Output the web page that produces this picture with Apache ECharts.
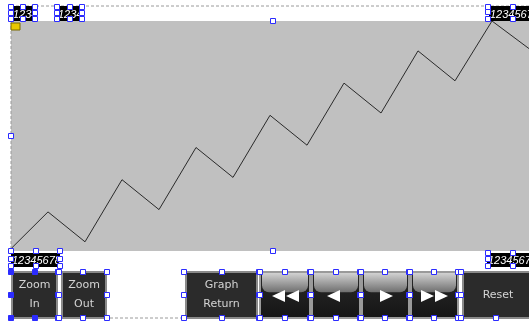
<!DOCTYPE html>
<html>
<head>
<meta charset="utf-8">
<script src="https://cdn.jsdelivr.net/npm/echarts@6/dist/echarts.min.js"></script>
<style>
  html, body { margin: 0; padding: 0; background: #fff; }
  #main { width: 529px; height: 321px; }
</style>
</head>
<body>
<div id="main"></div>
<script>
// trend samples (percent of span)
const samples = ['0', '1', '2', '3', '4', '5', '6', '7', '8', '9', '10', '11', '12', '13', '14'];
const trendValues = [1, 17, 4, 31, 18, 45, 32, 59, 46, 73, 60, 87, 74, 100, 88];
const topLabels = ['1234', '1234', '12345678'];
const bottomLabels = ['12345678', '12345678'];
const buttonLabels = ['Zoom\nIn', 'Zoom\nOut', 'Graph\nReturn', 'Reset'];

const chart = echarts.init(document.getElementById('main'));

const BLUE = '#2b2bff';

// 8 selection handles around a box
function handles(x1, y1, x2, y2, filled) {
  const xm = Math.round((x1 + x2) / 2), ym = Math.round((y1 + y2) / 2);
  const pts = [[x1, y1], [xm, y1], [x2, y1], [x1, ym], [x2, ym], [x1, y2], [xm, y2], [x2, y2]];
  return pts.map(p => ({
    type: 'rect', z: 50,
    shape: { x: p[0] - 2.5, y: p[1] - 2.5, width: 5, height: 5 },
    style: { fill: filled ? BLUE : '#fff', stroke: BLUE, lineWidth: 1 }
  }));
}

function valueBox(x, y, w, h, txt) {
  return [
    { type: 'rect', z: 20, shape: { x: x, y: y, width: w, height: h }, style: { fill: '#000' } },
    { type: 'text', z: 21, x: x + 1, y: y + h / 2 + 1,
      style: { text: txt, fill: '#fff', font: 'italic 11px "Liberation Sans"', verticalAlign: 'middle' } }
  ];
}

function darkButton(x, y, w, h, txt) {
  return [
    { type: 'rect', z: 10, shape: { x: x, y: y, width: w, height: h },
      style: { fill: '#2b2b2b', stroke: '#8a8a8a', lineWidth: 2 } },
    { type: 'text', z: 11, x: x + w / 2, y: y + h / 2,
      style: { text: txt, fill: '#d4d4d4', font: '11px "DejaVu Sans"', align: 'center',
               verticalAlign: 'middle', lineHeight: 19 } }
  ];
}

function mediaButton(x, y, w, h, arrows) {
  const els = [
    { type: 'rect', z: 10, shape: { x: x, y: y, width: w, height: h },
      style: { fill: new echarts.graphic.LinearGradient(0, 0, 0, 1, [
        { offset: 0, color: '#2a2a2a' }, { offset: 1, color: '#151515' }]), stroke: '#9a9a9a', lineWidth: 2 } },
    { type: 'rect', z: 11, shape: { x: x + 2, y: y + 1, width: w - 4, height: h * 0.42, r: [0, 0, 7, 7] },
      style: { fill: new echarts.graphic.LinearGradient(0, 0, 0, 1, [
        { offset: 0, color: '#d2d2d2' }, { offset: 1, color: '#6e6e6e' }]) } }
  ];
  const cy = y + h / 2 + 1;
  arrows.forEach(a => {
    const dir = a[1];
    const tip = a[0];
    const base = tip - dir * 13;
    els.push({ type: 'polygon', z: 12,
      shape: { points: [[tip, cy], [base, cy - 6], [base, cy + 6]] },
      style: { fill: '#fff' } });
  });
  return els;
}

function handleAt(list) {
  return list.map(p => ({
    type: 'rect', z: 50, shape: { x: p[0] - 2.5, y: p[1] - 2.5, width: 5, height: 5 },
    style: { fill: '#fff', stroke: BLUE } }));
}

let graphics = [];

// frame dotted lines
graphics.push({ type: 'line', z: 5, shape: { x1: 11, y1: 6, x2: 529, y2: 6 },
  style: { stroke: '#9a9a9a', lineWidth: 1, lineDash: [3, 2] } });
graphics.push({ type: 'line', z: 5, shape: { x1: 11, y1: 6, x2: 11, y2: 251 },
  style: { stroke: '#9a9a9a', lineWidth: 1, lineDash: [3, 2] } });
graphics.push({ type: 'line', z: 5, shape: { x1: 105, y1: 318, x2: 470, y2: 318 },
  style: { stroke: '#9a9a9a', lineWidth: 1, lineDash: [3, 2] } });

// value labels
graphics = graphics.concat(valueBox(12, 6, 25, 15, topLabels[0]));
graphics = graphics.concat(valueBox(57, 6, 25, 15, topLabels[1]));
graphics = graphics.concat(valueBox(489, 6, 40, 15, topLabels[2]));
graphics = graphics.concat(valueBox(11, 253, 49, 14, bottomLabels[0]));
graphics = graphics.concat(valueBox(487, 253, 42, 14, bottomLabels[1]));

// little icon
graphics.push({ type: 'rect', z: 30, shape: { x: 11, y: 23, width: 9, height: 7 },
  style: { fill: '#e8c800', stroke: '#7a6a00', lineWidth: 1 } });

// buttons
graphics = graphics.concat(darkButton(12, 272, 45, 46, buttonLabels[0]));
graphics = graphics.concat(darkButton(62, 272, 44, 46, buttonLabels[1]));
graphics = graphics.concat(darkButton(186, 272, 71, 46, buttonLabels[2]));
graphics = graphics.concat(darkButton(463, 272, 70, 46, buttonLabels[3]));
graphics = graphics.concat(mediaButton(260, 272, 50, 46, [[272, -1], [286, -1]]));
graphics = graphics.concat(mediaButton(312, 272, 48, 46, [[327, -1]]));
graphics = graphics.concat(mediaButton(362, 272, 47, 46, [[393, 1]]));
graphics = graphics.concat(mediaButton(411, 272, 47, 46, [[434, 1], [448, 1]]));

// selection handles
graphics = graphics.concat(handles(11, 7, 35, 19, false));
graphics = graphics.concat(handles(57, 7, 82, 19, false));
graphics = graphics.concat(handleAt([[488, 7], [513, 7], [488, 12], [488, 19], [513, 19]]));
graphics = graphics.concat(handles(11, 251, 60, 266, false));
graphics = graphics.concat(handleAt([[488, 253], [513, 253], [488, 259], [488, 266], [513, 266]]));
graphics = graphics.concat(handleAt([[273, 21], [11, 136], [273, 251]]));
graphics = graphics.concat(handles(11, 272, 58, 318, true));
graphics = graphics.concat(handles(59, 272, 107, 318, false));
graphics = graphics.concat(handles(184, 272, 259, 318, false));
graphics = graphics.concat(handles(260, 272, 310, 318, false));
graphics = graphics.concat(handles(311, 272, 360, 318, false));
graphics = graphics.concat(handles(361, 272, 409, 318, false));
graphics = graphics.concat(handles(410, 272, 458, 318, false));
graphics = graphics.concat(handleAt([[461, 272], [461, 295], [461, 318], [496, 318]]));

chart.setOption({
  animation: false,
  backgroundColor: '#fff',
  grid: {
    left: 11, right: 0, top: 21, bottom: 70,
    show: true, backgroundColor: '#c0c0c0', borderWidth: 0
  },
  xAxis: {
    type: 'category',
    data: samples,
    boundaryGap: false,
    show: false
  },
  yAxis: {
    type: 'value',
    min: 0,
    max: 100,
    show: false
  },
  series: [
    {
      type: 'line',
      data: trendValues,
      symbol: 'none',
      lineStyle: { color: '#2a2a2a', width: 1 }
    }
  ],
  graphic: graphics
});
</script>
</body>
</html>
